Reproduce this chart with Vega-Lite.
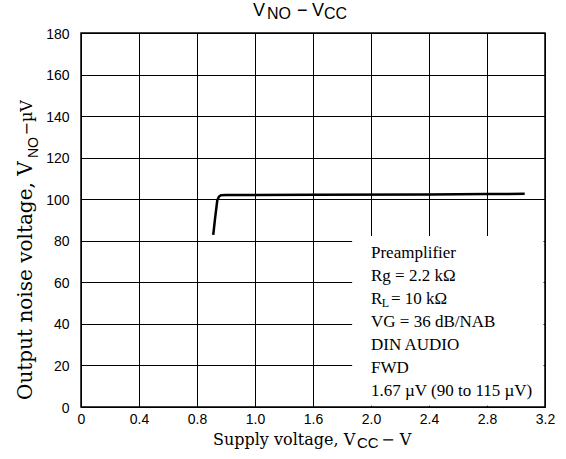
{
  "$schema": "https://vega.github.io/schema/vega-lite/v6.json",
  "width": 464,
  "height": 374,
  "autosize": {"type": "none"},
  "padding": {"left": 81, "top": 33, "right": 21, "bottom": 52},
  "background": "white",
  "config": {
    "view": {"stroke": "black", "strokeWidth": 1.5},
    "text": {"fill": "black", "align": "left", "baseline": "alphabetic"},
    "axis": {"grid": true, "gridColor": "black", "gridWidth": 1, "gridOpacity": 1,
      "domain": false, "ticks": false, "labelFont": "Liberation Sans", "labelFontSize": 14,
      "labelColor": "black", "labelOverlap": false, "title": null},
    "axisX": {"labelPadding": 5, "labelFlush": false},
    "axisY": {"labelPadding": 12, "labelBaseline": "middle", "labelOffset": 1}
  },
  "layer": [
    {
      "data": {"values": [
        {"vcc": 0.912, "vno": 82.8},
        {"vcc": 0.925, "vno": 91.0},
        {"vcc": 0.94, "vno": 99.5},
        {"vcc": 0.952, "vno": 101.3},
        {"vcc": 0.965, "vno": 101.9},
        {"vcc": 1.0, "vno": 102.0},
        {"vcc": 1.6, "vno": 102.1},
        {"vcc": 2.4, "vno": 102.3},
        {"vcc": 2.8, "vno": 102.5},
        {"vcc": 3.06, "vno": 102.6}
      ]},
      "mark": {"type": "line", "color": "black", "strokeWidth": 2.5, "strokeJoin": "round", "strokeCap": "butt"},
      "encoding": {
        "x": {"field": "vcc", "type": "quantitative", "title": null,
          "scale": {"domain": [0, 3.2], "nice": false, "zero": false},
          "axis": {"values": [0, 0.4, 0.8, 1.2, 1.6, 2, 2.4, 2.8, 3.2],
            "labelExpr": "abs(datum.value) < 0.001 ? '0' : (abs(datum.value - 1.2) < 0.001 ? '1.0' : format(datum.value, '.1f'))"}},
        "y": {"field": "vno", "type": "quantitative", "title": null,
          "scale": {"domain": [0, 180], "nice": false},
          "axis": {"values": [0, 20, 40, 60, 80, 100, 120, 140, 160, 180]}}
      }
    },
    {
      "data": {"values": [{}]},
      "mark": {"type": "rect", "fill": "white", "stroke": null},
      "encoding": {
        "x": {"datum": 1.87, "type": "quantitative", "title": null},
        "x2": {"datum": 3.19},
        "y": {"datum": 0.6, "type": "quantitative", "title": null},
        "y2": {"datum": 82.3}
      }
    },
    {
      "data": {"values": [{}]},
      "mark": {"type": "text", "font": "Liberation Serif", "fontSize": 17, "lineHeight": 23,
        "text": ["Preamplifier", "Rg = 2.2 kΩ"]},
      "encoding": {
        "x": {"datum": 2.0, "type": "quantitative", "title": null},
        "y": {"datum": 71.76, "type": "quantitative", "title": null}
      }
    },
    {
      "data": {"values": [{}]},
      "mark": {"type": "text", "font": "Liberation Serif", "fontSize": 17, "lineHeight": 23,
        "text": ["VG = 36 dB/NAB", "DIN AUDIO", "FWD", "1.67 µV (90 to 115 µV)"]},
      "encoding": {
        "x": {"datum": 2.0, "type": "quantitative", "title": null},
        "y": {"datum": 38.5, "type": "quantitative", "title": null}
      }
    },
    {
      "data": {"values": [{}]},
      "mark": {"type": "text", "font": "Liberation Serif", "fontSize": 17, "text": "R"},
      "encoding": {
        "x": {"datum": 2.0, "type": "quantitative", "title": null},
        "y": {"datum": 49.57, "type": "quantitative", "title": null}
      }
    },
    {
      "data": {"values": [{}]},
      "mark": {"type": "text", "font": "Liberation Serif", "fontSize": 12, "text": "L"},
      "encoding": {
        "x": {"datum": 2.074, "type": "quantitative", "title": null},
        "y": {"datum": 48.13, "type": "quantitative", "title": null}
      }
    },
    {
      "data": {"values": [{}]},
      "mark": {"type": "text", "font": "Liberation Serif", "fontSize": 17, "text": "= 10 kΩ"},
      "encoding": {
        "x": {"datum": 2.138, "type": "quantitative", "title": null},
        "y": {"datum": 49.57, "type": "quantitative", "title": null}
      }
    },
    {
      "data": {"values": [{}]},
      "mark": {"type": "text", "font": "Liberation Sans", "fontSize": 18, "text": "V"},
      "encoding": {
        "x": {"datum": 1.1862, "type": "quantitative", "title": null},
        "y": {"datum": 188.18, "type": "quantitative", "title": null}
      }
    },
    {
      "data": {"values": [{}]},
      "mark": {"type": "text", "font": "Liberation Sans", "fontSize": 16, "text": "NO"},
      "encoding": {
        "x": {"datum": 1.2828, "type": "quantitative", "title": null},
        "y": {"datum": 186.6, "type": "quantitative", "title": null}
      }
    },
    {
      "data": {"values": [{}]},
      "mark": {"type": "text", "font": "Liberation Sans", "fontSize": 18, "text": "−"},
      "encoding": {
        "x": {"datum": 1.4897, "type": "quantitative", "title": null},
        "y": {"datum": 188.18, "type": "quantitative", "title": null}
      }
    },
    {
      "data": {"values": [{}]},
      "mark": {"type": "text", "font": "Liberation Sans", "fontSize": 18, "text": "V"},
      "encoding": {
        "x": {"datum": 1.5931, "type": "quantitative", "title": null},
        "y": {"datum": 188.18, "type": "quantitative", "title": null}
      }
    },
    {
      "data": {"values": [{}]},
      "mark": {"type": "text", "font": "Liberation Sans", "fontSize": 16, "text": "CC"},
      "encoding": {
        "x": {"datum": 1.6759, "type": "quantitative", "title": null},
        "y": {"datum": 186.6, "type": "quantitative", "title": null}
      }
    },
    {
      "data": {"values": [{}]},
      "mark": {"type": "text", "font": "DejaVu Serif", "fontSize": 16, "text": "Supply voltage, V"},
      "encoding": {
        "x": {"datum": 0.9103, "type": "quantitative", "title": null},
        "y": {"datum": -18.29, "type": "quantitative", "title": null}
      }
    },
    {
      "data": {"values": [{}]},
      "mark": {"type": "text", "font": "Liberation Sans", "fontSize": 15, "text": "CC"},
      "encoding": {
        "x": {"datum": 1.9034, "type": "quantitative", "title": null},
        "y": {"datum": -19.73, "type": "quantitative", "title": null}
      }
    },
    {
      "data": {"values": [{}]},
      "mark": {"type": "text", "font": "DejaVu Serif", "fontSize": 16, "text": "− V"},
      "encoding": {
        "x": {"datum": 2.07, "type": "quantitative", "title": null},
        "y": {"datum": -18.29, "type": "quantitative", "title": null}
      }
    },
    {
      "data": {"values": [{}]},
      "mark": {"type": "text", "font": "DejaVu Serif", "fontSize": 20, "angle": 270, "text": "Output noise voltage, V"},
      "encoding": {
        "x": {"datum": -0.338, "type": "quantitative", "title": null},
        "y": {"datum": 3.37, "type": "quantitative", "title": null}
      }
    },
    {
      "data": {"values": [{}]},
      "mark": {"type": "text", "font": "Liberation Sans", "fontSize": 14, "angle": 270, "text": "NO"},
      "encoding": {
        "x": {"datum": -0.2966, "type": "quantitative", "title": null},
        "y": {"datum": 119.84, "type": "quantitative", "title": null}
      }
    },
    {
      "data": {"values": [{}]},
      "mark": {"type": "text", "font": "DejaVu Serif", "fontSize": 16, "angle": 270, "text": "−µV"},
      "encoding": {
        "x": {"datum": -0.338, "type": "quantitative", "title": null},
        "y": {"datum": 130.67, "type": "quantitative", "title": null}
      }
    }
  ]
}
